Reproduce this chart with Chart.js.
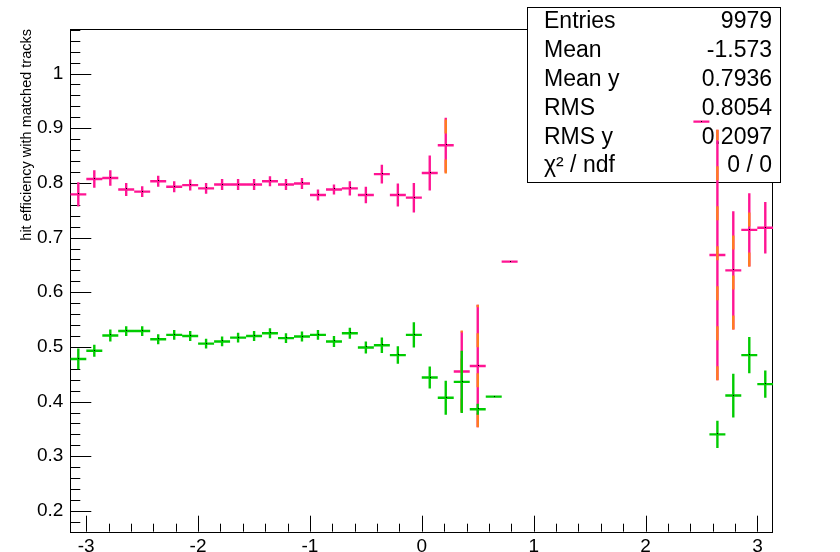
<!DOCTYPE html>
<html>
<head>
<meta charset="utf-8">
<script src="https://cdn.jsdelivr.net/npm/chart.js@4/dist/chart.umd.min.js"></script>
<style>
  html, body { margin: 0; padding: 0; background: #fff; }
</style>
</head>
<body>
<canvas id="eff" width="840" height="552"></canvas>
<script>
// bin half width in phi (44 bins over -pi..pi)
const halfBin = 0.0714;

const phiPink = [-3.070, -2.927, -2.784, -2.642, -2.499, -2.356, -2.213, -2.070, -1.928, -1.785,
  -1.642, -1.499, -1.357, -1.214, -1.071, -0.928, -0.785, -0.643, -0.500, -0.357,
  -0.214, -0.071, 0.071, 0.214, 0.357, 0.500, 0.785, 2.499, 2.642, 2.784, 2.927, 3.070];
const effPink = [0.779, 0.807, 0.809, 0.788, 0.784, 0.803, 0.793, 0.796, 0.790, 0.797,
  0.797, 0.797, 0.803, 0.797, 0.799, 0.778, 0.788, 0.790, 0.778, 0.816,
  0.778, 0.773, 0.818, 0.869, 0.455, 0.465, 0.656, 0.912, 0.668, 0.640, 0.714, 0.718];
const errPink = [0.022, 0.016, 0.014, 0.012, 0.010, 0.010, 0.010, 0.010, 0.010, 0.010,
  0.010, 0.010, 0.009, 0.010, 0.010, 0.010, 0.009, 0.013, 0.015, 0.017,
  0.021, 0.027, 0.032, 0.050, 0.073, 0.112, 0, 0, 0.229, 0.108, 0.067, 0.047];

// orange histogram, mostly hidden under the pink one
const phiOrange = [0.214, 0.357, 0.500, 2.642, 2.784, 2.927];
const effOrange = [0.869, 0.455, 0.465, 0.668, 0.640, 0.714];
const errOrange = [0.052, 0.075, 0.112, 0.229, 0.108, 0.067];

const phiGreen = [-3.070, -2.927, -2.784, -2.642, -2.499, -2.356, -2.213, -2.070, -1.928, -1.785,
  -1.642, -1.499, -1.357, -1.214, -1.071, -0.928, -0.785, -0.643, -0.500, -0.357,
  -0.214, -0.071, 0.071, 0.214, 0.357, 0.500, 0.643, 2.642, 2.784, 2.927, 3.070];
const effGreen = [0.478, 0.493, 0.521, 0.529, 0.529, 0.514, 0.522, 0.520, 0.506, 0.510,
  0.517, 0.520, 0.525, 0.516, 0.519, 0.522, 0.510, 0.525, 0.499, 0.503,
  0.485, 0.522, 0.444, 0.407, 0.436, 0.386, 0.409, 0.340, 0.411, 0.485, 0.432];
const errGreen = [0.019, 0.011, 0.011, 0.009, 0.009, 0.009, 0.009, 0.009, 0.009, 0.009,
  0.009, 0.009, 0.009, 0.009, 0.009, 0.009, 0.010, 0.010, 0.011, 0.014,
  0.016, 0.023, 0.020, 0.031, 0.057, 0.010, 0, 0.025, 0.040, 0.033, 0.025];

const xTicks = [-3, -2, -1, 0, 1, 2, 3];
const yTicks = [0.2, 0.3, 0.4, 0.5, 0.6, 0.7, 0.8, 0.9, 1.0];

const statNames = ['Entries', 'Mean', 'Mean y', 'RMS', 'RMS y', 'χ² / ndf'];
const statValues = ['9979', '-1.573', '0.7936', '0.8054', '0.2097', '0 / 0'];

const FONT = "'Liberation Sans', Arial, sans-serif";

function points(xs, ys, es) {
  return xs.map((x, i) => ({ x: x, y: ys[i], err: es[i] }));
}

// frame, inward ROOT-style ticks and stats box (under the markers)
const framePlugin = {
  id: 'frame',
  beforeDatasetsDraw(chart) {
    const { ctx, chartArea: a, scales: { x, y } } = chart;
    ctx.save();
    ctx.strokeStyle = '#000';
    ctx.lineWidth = 1;
    ctx.strokeRect(Math.round(a.left) + 0.5, Math.round(a.top) + 0.5,
      Math.round(a.right - a.left) - 1, Math.round(a.bottom - a.top));

    ctx.beginPath();
    for (let i = 9; i <= 54; i++) {
      const v = i * 0.02;
      if (v < y.min || v > y.max) continue;
      const py = Math.round(y.getPixelForValue(v)) + 0.5;
      const len = i % 5 === 0 ? 21 : 10;
      ctx.moveTo(a.left, py);
      ctx.lineTo(a.left + len, py);
    }
    for (let i = -16; i <= 16; i++) {
      const v = i * 0.2;
      if (v < x.min || v > x.max) continue;
      const px = Math.round(x.getPixelForValue(v)) + 0.5;
      const len = i % 5 === 0 ? 16 : 8;
      ctx.moveTo(px, a.bottom);
      ctx.lineTo(px, a.bottom - len);
    }
    ctx.stroke();

    // statistics box
    const bx = 527.5, by = 7.5, bw = 253, bh = 175;
    ctx.fillStyle = '#fff';
    ctx.fillRect(bx, by, bw, bh);
    ctx.strokeStyle = '#000';
    ctx.strokeRect(bx, by, bw, bh);
    ctx.fillStyle = '#000';
    ctx.font = '23px ' + FONT;
    ctx.textBaseline = 'middle';
    statNames.forEach((name, i) => {
      const ty = 22 + i * 28.8;
      ctx.textAlign = 'left';
      ctx.fillText(name, 544, ty);
      ctx.textAlign = 'right';
      ctx.fillText(statValues[i], 772, ty);
    });
    ctx.restore();
  }
};

// horizontal bin width bar + vertical error bar for each point
const errorBarPlugin = {
  id: 'errorBars',
  afterDatasetsDraw(chart) {
    const { ctx, chartArea: a, scales: { x, y } } = chart;
    ctx.save();
    ctx.beginPath();
    ctx.rect(a.left, a.top, a.right - a.left, a.bottom - a.top);
    ctx.clip();
    chart.data.datasets.forEach(ds => {
      ctx.strokeStyle = ds.borderColor;
      ctx.lineWidth = 2.4;
      ctx.setLineDash(ds.dash || []);
      ctx.beginPath();
      ds.data.forEach(p => {
        const px = x.getPixelForValue(p.x);
        const py = y.getPixelForValue(p.y);
        if (!ds.dash) {
          ctx.moveTo(x.getPixelForValue(p.x - halfBin), py);
          ctx.lineTo(x.getPixelForValue(p.x + halfBin), py);
        }
        if (p.err > 0) {
          ctx.moveTo(px, y.getPixelForValue(p.y - p.err));
          ctx.lineTo(px, y.getPixelForValue(p.y + p.err));
        }
      });
      ctx.stroke();
      if (ds.dash) return;
      ctx.fillStyle = '#000';
      ds.data.forEach(p => {
        ctx.fillRect(Math.round(x.getPixelForValue(p.x)), Math.round(y.getPixelForValue(p.y)) - 1, 1, 1);
      });
    });
    ctx.restore();
  }
};

new Chart(document.getElementById('eff').getContext('2d'), {
  type: 'scatter',
  data: {
    datasets: [
      { label: 'eff', data: points(phiPink, effPink, errPink), borderColor: '#ff1493', pointRadius: 0 },
      { label: 'eff3', data: points(phiOrange, effOrange, errOrange), borderColor: '#ff7f1e', pointRadius: 0, dash: [14, 26] },
      { label: 'eff2', data: points(phiGreen, effGreen, errGreen), borderColor: '#00cc00', pointRadius: 0 }
    ]
  },
  options: {
    responsive: false,
    animation: false,
    layout: { padding: { top: 29, right: 66.7, bottom: 0, left: 0 } },
    plugins: { legend: { display: false }, title: { display: false }, tooltip: { enabled: false } },
    scales: {
      x: {
        type: 'linear',
        min: -Math.PI,
        max: Math.PI,
        grid: { display: false, drawTicks: false },
        border: { display: false },
        ticks: {
          color: '#000',
          font: { family: FONT, size: 19 },
          padding: 4,
          maxRotation: 0,
          autoSkip: false,
          callback: v => String(v)
        },
        afterBuildTicks: s => { s.ticks = xTicks.map(v => ({ value: v })); },
        afterFit: s => { s.height = 20.3; }
      },
      y: {
        type: 'linear',
        min: 0.162,
        max: 1.0815,
        grid: { display: false, drawTicks: false },
        border: { display: false },
        title: {
          display: true,
          text: 'hit efficiency with matched tracks',
          align: 'end',
          color: '#000',
          font: { family: FONT, size: 14.5 },
          padding: { top: 18, bottom: 0 }
        },
        ticks: {
          color: '#000',
          font: { family: FONT, size: 19 },
          padding: 7,
          autoSkip: false,
          callback: v => String(+v.toFixed(2))
        },
        afterBuildTicks: s => { s.ticks = yTicks.map(v => ({ value: v })); },
        afterFit: s => { s.width = 70.3; }
      }
    }
  },
  plugins: [framePlugin, errorBarPlugin]
});
</script>
</body>
</html>
